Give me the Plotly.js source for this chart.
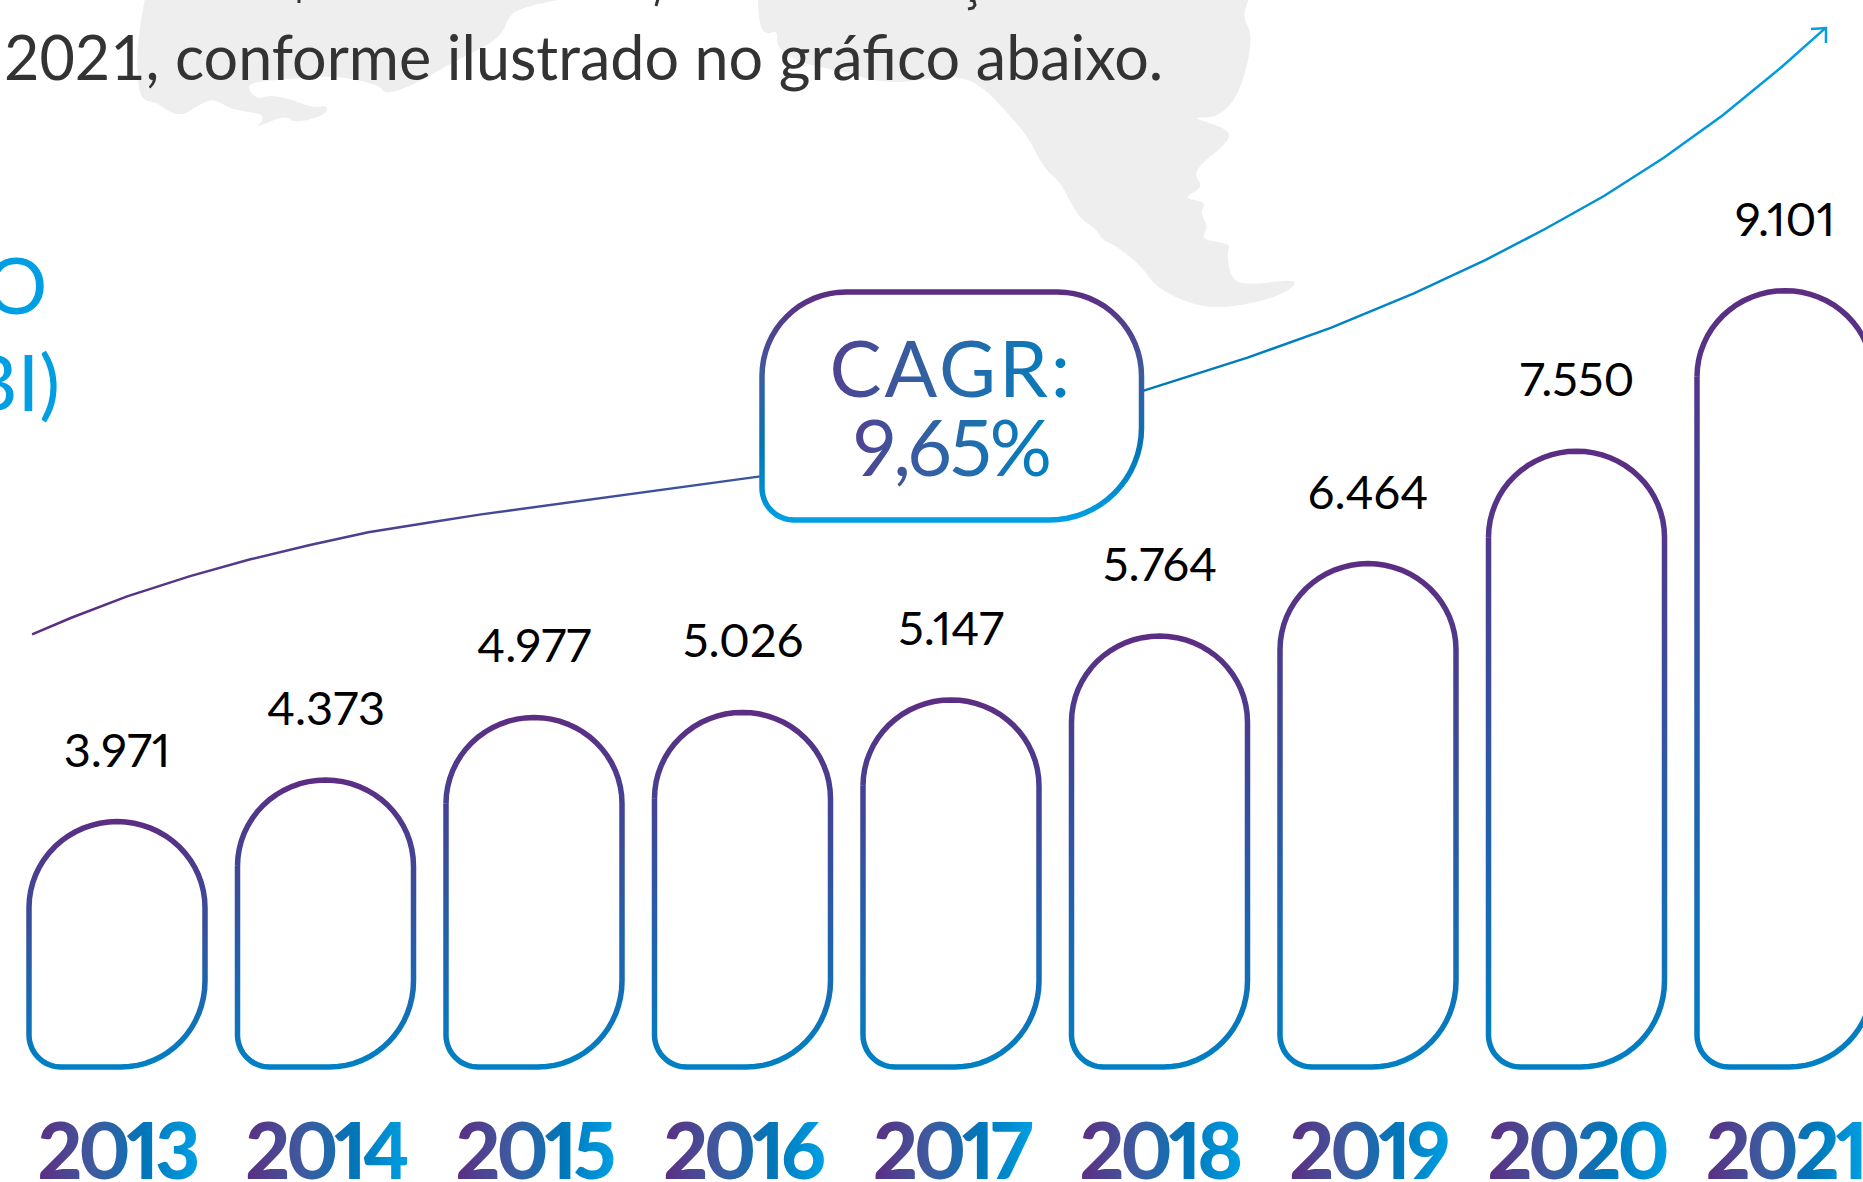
<!DOCTYPE html>
<html>
<head>
<meta charset="utf-8">
<script src="https://cdn.plot.ly/plotly-3.0.1.min.js"></script>
<style>html,body{margin:0;padding:0;background:#fff;overflow:hidden}#chart{width:1863px;height:1182px}</style>
</head>
<body>
<div id="chart"></div>
<script>
const years = [2013, 2014, 2015, 2016, 2017, 2018, 2019, 2020, 2021];
const revenue = [3971, 4373, 4977, 5026, 5147, 5764, 6464, 7550, 9101];
const valueLabels = ['3.971', '4.373', '4.977', '5.026', '5.147', '5.764', '6.464', '7.550', '9.101'];
const bodyLine = '2021, conforme ilustrado no gráfico abaixo.';
const cagrLines = ['CAGR:', '9,65%'];
const titleFragments = ['O', 'BI)'];

const W = 1863, H = 1182;
const FONT = 'Lato, sans-serif';
const baseY = 1067;                 // page row of the bars' foot
const axisY = 1080;                 // page row of the x axis, just under the bars
const pxPerYear = 208.5, firstCentre = 117;
const pxPerUnit = 0.1035, baseValue = 1600;
const xRange = [2013 - firstCentre / pxPerYear, 2013 + (W - firstCentre) / pxPerYear];
const yRange = [baseValue - (axisY - baseY) / pxPerUnit, baseValue + baseY / pxPerUnit];

// page-pixel helpers for the decorations
const px = x => x / W, py = y => 1 - y / H;

function corner(cx, cy, rx, ry, a0, a1) {
  const pts = [];
  for (let k = 0; k <= 16; k++) {
    const a = (a0 + (a1 - a0) * k / 16) * Math.PI / 180;
    pts.push([cx + rx * Math.cos(a), cy + ry * Math.sin(a)]);
  }
  return pts;
}
// Outline of a bar in data units: x = year, y = value.
function barOutline(year, value) {
  const hw = 88 / pxPerYear;
  const xu = 1 / pxPerYear, yu = 1 / pxPerUnit;
  const tx = 88 * xu, ty = 86 * yu, blx = 32 * xu, bly = 32 * yu, brx = 84 * xu, bry = 86 * yu;
  const L = year - hw, R = year + hw, T = value, B = baseValue;
  const p = [].concat(
    corner(L + tx, T - ty, tx, ty, 180, 90),
    corner(R - tx, T - ty, tx, ty, 90, 0),
    corner(R - brx, B + bry, brx, bry, 0, -90),
    corner(L + blx, B + bly, blx, bly, -90, -180)
  );
  p.push(p[0]);
  return { x: p.map(q => q[0]), y: p.map(q => q[1]) };
}

const traces = years.map((yr, i) => {
  const o = barOutline(yr, revenue[i]);
  return {
    type: 'scatter', mode: 'lines', name: String(yr), x: o.x, y: o.y,
    line: { color: '#2a68a8', width: 5.5, simplify: false },
    hoverinfo: 'skip', showlegend: false, cliponaxis: false
  };
});

const annotations = valueLabels.map((t, i) => ({
  text: t, x: years[i], y: revenue[i], xref: 'x', yref: 'y', yshift: 73,
  xanchor: 'center', yanchor: 'middle', showarrow: false,
  font: { family: FONT, size: 47, color: '#000' }
}));
const pageText = (text, x, y, anchor, size, color) => ({
  text, x: px(x), y: py(y), xref: 'paper', yref: 'paper', xanchor: anchor, yanchor: 'middle',
  showarrow: false, font: { family: FONT, size, color }
});
annotations.push(pageText(bodyLine, 2, 57, 'left', 61, '#333333'));
annotations.push(pageText(cagrLines[0], 951, 367, 'center', 78, '#504291'));
annotations.push(pageText(cagrLines[1], 950, 446, 'center', 78, '#504291'));
annotations.push(pageText(titleFragments[0], 49, 284, 'right', 78, '#009fe3'));
annotations.push(pageText(titleFragments[1], 62, 381, 'right', 78, '#009fe3'));

// Grey map silhouette, traced on the zoomed crops (crop x / 2.24, crop y / 3)
const mapCentralCrop = [[325,-6],[305,130],[310,265],[320,300],[355,310],[360,320],[405,352],[450,310],[480,297],[520,330],[585,340],[590,360],[570,385],[640,345],[660,370],[730,345],[735,315],[700,325],[650,295],[600,285],[575,300],[548,250],[620,240],[750,225],[850,255],[860,280],[900,270],[960,230],[1010,190],[1100,130],[1130,90],[1135,60],[1160,25],[1270,-6]];
const mapSouthCrop = [[130,-6],[130,60],[145,105],[175,90],[170,140],[215,185],[300,210],[430,255],[550,225],[620,245],[680,325],[735,410],[770,505],[810,550],[845,650],[890,690],[900,720],[930,735],[990,800],[1020,860],[1100,915],[1180,925],[1300,890],[1350,835],[1230,855],[1190,840],[1180,760],[1190,730],[1120,720],[1140,680],[1120,640],[1135,605],[1080,595],[1130,560],[1100,515],[1190,420],[1180,385],[1095,350],[1160,355],[1210,280],[1240,110],[1215,50],[1230,-6]];
const mapCentral = mapCentralCrop.map(p => [p[0] / 2.24, p[1] / 3]);
const mapSouth = mapSouthCrop.map(p => [700 + p[0] / 2.24, p[1] / 3]);
function smoothPath(pts) {
  let d = 'M' + px(pts[0][0]) + ',' + py(pts[0][1]);
  for (let i = 1; i < pts.length - 1; i++) {
    const mx = (pts[i][0] + pts[i + 1][0]) / 2, my = (pts[i][1] + pts[i + 1][1]) / 2;
    d += 'Q' + px(pts[i][0]) + ',' + py(pts[i][1]) + ' ' + px(mx) + ',' + py(my);
  }
  const e = pts[pts.length - 1];
  return d + 'L' + px(e[0]) + ',' + py(e[1]);
}
// CAGR curve (1568-wide view)
const curveShrunk = [[27,534],[60,520],[107,502],[160,485],[210,471],[260,459],[310,448],[360,440],[405,433],[640,401],[962,329],[1050,301],[1120,276],[1190,247],[1250,219],[1300,193],[1350,165],[1400,133],[1450,97],[1500,56],[1537,23]];
const curve = curveShrunk.map(p => [p[0] * W / 1568, p[1] * H / 995]);
const P2 = p => px(p[0]) + ',' + py(p[1]);
const polyPath = pts => 'M' + pts.map(P2).join('L');
const boxL = 762, boxR = 1141.5, boxT = 292, boxB = 520;
function roundedBoxPath() {
  const tl = 84, tr = 84, br = 92, bl = 32;
  const arc = (cx, cy, r, a0, a1) => corner(cx, cy, r, r, a0, a1).map(q => 'L' + P2(q)).join('');
  return 'M' + P2([boxL, boxT + tl]) +
    arc(boxL + tl, boxT + tl, tl, 180, 270) + arc(boxR - tr, boxT + tr, tr, 270, 360) +
    arc(boxR - br, boxB - br, br, 0, 90) + arc(boxL + bl, boxB - bl, bl, 90, 180) + 'Z';
}
const clear = 'rgba(0,0,0,0)';
const paperShape = (layer, path, fillcolor, line) => ({ type: 'path', layer, xref: 'paper', yref: 'paper', path, fillcolor, line });
const shapes = [
  paperShape('below', smoothPath(mapCentral) + 'Z', '#eeeeee', { width: 0 }),
  paperShape('below', smoothPath(mapSouth) + 'Z', '#eeeeee', { width: 0 }),
  paperShape('above', polyPath(curve), clear, { color: '#0077b9', width: 2.5 }),
  paperShape('above', polyPath([[1811,29],[1826,28],[1826,43]]), clear, { color: '#009fe3', width: 2.5 }),
  paperShape('above', roundedBoxPath(), '#ffffff', { color: '#0077b9', width: 5.5 }),
  // descenders of the clipped text line at the very top of the picture
  paperShape('above', polyPath([[299,-1],[299,3]]), clear, { color: '#333333', width: 3 }),
  paperShape('above', polyPath([[658,-1],[656,6]]), clear, { color: '#333333', width: 3 }),
  paperShape('above', polyPath([[970,0],[974,1],[975,5],[973,8],[968,9]]), clear, { color: '#333333', width: 3 })
];

const layout = {
  width: W, height: H, margin: { l: 0, r: 0, t: 0, b: 0 }, paper_bgcolor: '#fff', plot_bgcolor: clear,
  showlegend: false, annotations, shapes,
  xaxis: { range: xRange, tickmode: 'array', tickvals: years, ticktext: years.map(String), showgrid: false, zeroline: false, showline: false, ticks: '', ticklabelstandoff: 20, ticklabeloverflow: 'allow',
    tickfont: { family: FONT, size: 78, weight: 900, color: '#2a68a8' }, fixedrange: true },
  yaxis: { domain: [1 - axisY / H, 1], range: yRange, showgrid: false, zeroline: false, showline: false, showticklabels: false, ticks: '', fixedrange: true }
};

Plotly.newPlot('chart', traces, layout, { displayModeBar: false, staticPlot: true }).then(gd => {
  const NS = 'http://www.w3.org/2000/svg';
  const svg = gd.querySelector('svg.main-svg');
  const defs = document.createElementNS(NS, 'defs');
  const grad = (id, vertical, stops) => {
    const g = document.createElementNS(NS, 'linearGradient');
    g.setAttribute('id', id); g.setAttribute('x1', 0); g.setAttribute('y1', 0);
    g.setAttribute('x2', vertical ? 0 : 1); g.setAttribute('y2', vertical ? 1 : 0);
    stops.forEach(s => { const e = document.createElementNS(NS, 'stop'); e.setAttribute('offset', s[0]); e.setAttribute('stop-color', s[1]); g.appendChild(e); });
    defs.appendChild(g);
  };
  grad('gBar', true, [[0, '#5c2d82'], [1, '#0080c4']]);
  grad('gBox', true, [[0, '#5c2d82'], [0.35, '#3f5a9f'], [0.7, '#0077b9'], [1, '#009fe3']]);
  grad('gCurve', false, [[0, '#5c2d82'], [0.4, '#3a569f'], [0.62, '#0077b9'], [1, '#009fe3']]);
  grad('gYear', false, [[0, '#5c2d82'], [0.35, '#3f5a9f'], [0.68, '#0077b9'], [1, '#009fe3']]);
  grad('gCagr', false, [[0, '#504291'], [0.5, '#2a68a8'], [1, '#0080c0']]);
  svg.insertBefore(defs, svg.firstChild);
  gd.querySelectorAll('.scatterlayer .js-line').forEach(p => p.style.setProperty('stroke', 'url(#gBar)'));
  gd.querySelectorAll('.xtick text').forEach(t => {
    t.style.setProperty('fill', 'url(#gYear)');
    t.style.letterSpacing = '-4px';
    t.style.fontVariantNumeric = 'proportional-nums';
  });
  gd.querySelectorAll('.annotation-text').forEach(t => {
    const s = t.textContent;
    if (cagrLines.includes(s)) t.style.setProperty('fill', 'url(#gCagr)');
    if (s === cagrLines[0]) t.style.letterSpacing = '3px';
    if (s === cagrLines[1]) t.style.letterSpacing = '-4px';
    if (valueLabels.includes(s)) t.style.fontVariantNumeric = 'proportional-nums';
  });
  const sh = gd.querySelectorAll('.layer-above .shapelayer path');
  if (sh[0]) sh[0].style.setProperty('stroke', 'url(#gCurve)');
  if (sh[2]) sh[2].style.setProperty('stroke', 'url(#gBox)');
});
</script>
</body>
</html>
